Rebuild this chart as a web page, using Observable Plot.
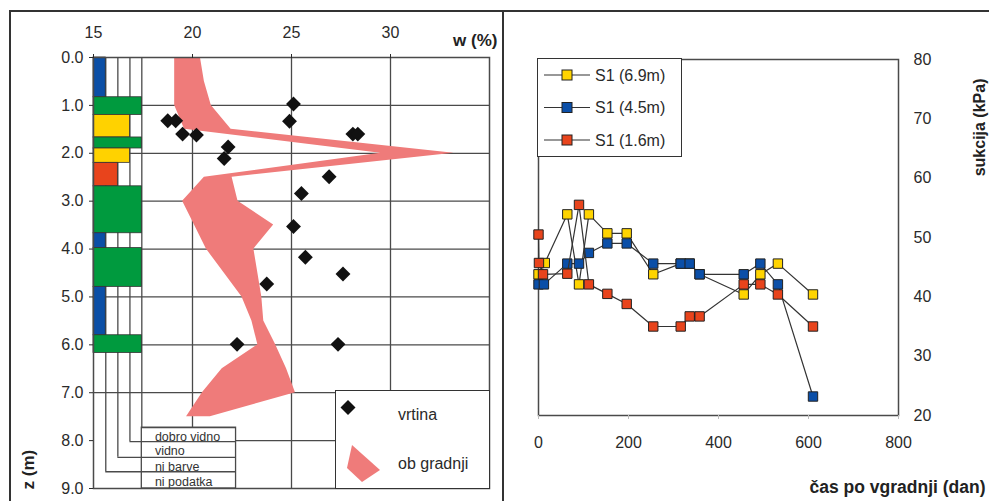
<!DOCTYPE html>
<html>
<head>
<meta charset="utf-8">
<script src="https://cdn.jsdelivr.net/npm/d3@7"></script>
<script src="https://cdn.jsdelivr.net/npm/@observablehq/plot@0.6"></script>
<style>
  body { margin: 0; background: #fff; }
  #page { position: relative; width: 989px; height: 501px; overflow: hidden; background: #fff; font-family: "Liberation Sans", Arial, sans-serif; }
  .abs { position: absolute; }
  .line { position: absolute; background: #333; }
  .legend { position: absolute; box-sizing: border-box; border: 1.5px solid #333; background: #fff; }
</style>
</head>
<body>
<div id="page">
  <div id="left" class="abs" style="left:0;top:0;width:500px;height:501px"></div>
  <div id="right" class="abs" style="left:500px;top:0;width:489px;height:501px"></div>
  <div class="line" style="left:9px;top:10px;width:980px;height:2px"></div>
  <div class="line" style="left:9px;top:10px;width:2px;height:491px"></div>
  <div class="line" style="left:502px;top:10px;width:2px;height:491px"></div>
  <div id="legL" class="legend" style="left:335px;top:390px;width:155px;height:99px"></div>
  <div id="legR" class="legend" style="left:537px;top:58px;width:145px;height:99px"></div>
</div>
<script>
// ---------- tick labels ----------
const depthTicks = [0, 1, 2, 3, 4, 5, 6, 7, 8, 9];
const wTicks = [15, 20, 25, 30];
const wGrid = [20, 25, 30];
const dayTicks = [0, 200, 400, 600, 800];
const kpaTicks = [20, 30, 40, 50, 60, 70, 80];

// ---------- left: vrtina (borehole) water content ----------
const vrtinaW = [25.1, 24.9, 18.75, 19.15, 19.5, 20.2, 21.8, 21.6, 28.1, 28.35, 26.9, 25.5, 25.1, 25.7, 27.6, 23.75, 22.25, 27.35];
const vrtinaZ = [0.97, 1.33, 1.32, 1.32, 1.6, 1.62, 1.87, 2.11, 1.6, 1.6, 2.49, 2.84, 3.53, 4.17, 4.52, 4.73, 5.99, 5.99];

// ---------- left: ob gradnji (during construction) range ----------
const bandZ   = [0,    0.5,  1.0,   1.5,   2.0,  2.5,  3.0,  3.5,  4.0,  4.5,  5.0,  5.5,  6.0,  6.5,   7.0,  7.5];
const bandMin = [19.1, 19.1, 19.1,  19.6,  29.5, 20.6, 19.5, 20.1, 20.7, 21.6, 22.5, 23.0, 23.3, 21.5,  20.5, 19.7];
const bandMax = [20.4, 20.6, 20.95, 21.95, 33.2, 22.0, 22.3, 24.1, 23.1, 23.3, 23.5, 23.6, 24.2, 24.75, 25.2, 20.9];

// ---------- left: visibility log ----------
const visClasses = ["ni podatka", "ni barve", "vidno", "dobro vidno"];
const visEdge = [15.62, 16.23, 16.84, 17.44];
const visTurn = [8.65, 8.35, 8.02, 7.73];
const visColor = ["#0b4fa6", "#e8441c", "#ffd200", "#009a3e"];
const labelBoxRight = 22.2;
const layerTop    = [0,    0.83, 1.2,  1.67, 1.9,  2.2,  2.69, 3.67, 3.98, 4.79, 5.8];
const layerBottom = [0.83, 1.2,  1.67, 1.9,  2.2,  2.69, 3.67, 3.98, 4.79, 5.8,  6.17];
const layerClass  = ["ni podatka", "dobro vidno", "vidno", "dobro vidno", "vidno", "ni barve",
                     "dobro vidno", "ni podatka", "dobro vidno", "ni podatka", "dobro vidno"];

// ---------- right: suction time series ----------
const seriesNames = ["S1 (6.9m)", "S1 (4.5m)", "S1 (1.6m)"];
const seriesColors = ["#ffd400", "#0b4fa8", "#e8441c"];
const dayS69 = [0, 14, 64, 90, 112, 153, 196, 255, 316, 336, 358, 456, 493, 532, 610];
const kpaS69 = [43.8, 45.7, 53.9, 42.1, 53.9, 50.7, 50.7, 43.8, 45.6, 45.6, 43.8, 40.4, 43.8, 45.6, 40.4];
const dayS45 = [0, 12, 64, 90, 112, 153, 196, 255, 316, 336, 358, 456, 493, 532, 610];
const kpaS45 = [42.1, 42.1, 45.6, 45.6, 47.4, 49.0, 49.0, 45.6, 45.6, 45.6, 43.8, 43.8, 45.6, 42.1, 23.2];
const dayS16 = [0, 1, 10, 64, 90, 112, 153, 196, 255, 316, 336, 358, 456, 493, 532, 610];
const kpaS16 = [50.5, 45.7, 43.8, 43.9, 55.5, 42.1, 40.5, 38.8, 35.0, 35.0, 36.7, 36.7, 42.1, 42.1, 40.4, 35.0];

const leftLegendNames = ["vrtina", "ob gradnji"];

// ---------- build tables ----------
const holes = vrtinaW.map((w, i) => ({w, z: vrtinaZ[i]}));
const band = bandZ.map((z, i) => ({z, min: bandMin[i], max: bandMax[i]}));
const vis = visClasses.map((cls, i) => ({
  cls, edge: visEdge[i], turn: visTurn[i],
  mid: (visTurn[i] + (i > 0 ? visTurn[i - 1] : 9)) / 2
}));
const edgeOf = Object.fromEntries(visClasses.map((c, i) => [c, visEdge[i]]));
const layers = layerTop.map((t, i) => ({top: t, bottom: layerBottom[i], cls: layerClass[i]}));
const series = [
  dayS69.map((d, i) => ({day: d, kpa: kpaS69[i]})),
  dayS45.map((d, i) => ({day: d, kpa: kpaS45[i]})),
  dayS16.map((d, i) => ({day: d, kpa: kpaS16[i]}))
];

const font = "'Liberation Sans', Arial, sans-serif";
const baseStyle = {fontFamily: font, fontSize: "16px", color: "#2a2a2a", background: "transparent", overflow: "visible", maxWidth: "none"};
const grid = "#4a4a4a";

// ---------- left chart ----------
const left = Plot.plot({
  width: 500, height: 501,
  marginLeft: 93, marginRight: 11, marginTop: 57, marginBottom: 13,
  x: {domain: [15, 35]},
  y: {domain: [0, 9], reverse: true},
  color: {domain: visClasses, range: visColor},
  style: baseStyle,
  marks: [
    Plot.ruleX(wGrid, {y1: 0, y2: 9, stroke: grid, strokeWidth: 1.3}),
    Plot.ruleY(depthTicks.filter(d => d > 0 && d < 8), {x1: 15, x2: 35, stroke: grid, strokeWidth: 1.3}),
    Plot.ruleY([8], {x1: labelBoxRight, x2: 35, stroke: grid, strokeWidth: 1.3}),
    Plot.rect([vis[3]], {x1: "edge", x2: labelBoxRight, y1: "turn", y2: 9, fill: "white", stroke: grid, strokeWidth: 1.3}),
    Plot.ruleX(vis, {x: "edge", y1: 0, y2: "turn", stroke: grid, strokeWidth: 1.3}),
    Plot.ruleY(vis, {y: "turn", x1: "edge", x2: labelBoxRight, stroke: grid, strokeWidth: 1.3}),
    Plot.areaX(band, {y: "z", x1: "min", x2: "max", fill: "#ef7b7a", curve: "linear"}),
    Plot.rect(layers, {x1: 15, x2: d => edgeOf[d.cls], y1: "top", y2: "bottom", fill: "cls", stroke: "#333", strokeWidth: 0.8}),
    Plot.text(vis, {x: 18.1, y: "mid", text: "cls", textAnchor: "start", fontSize: 12.5, dy: 2, fill: "#333"}),
    Plot.dot(holes, {x: "w", y: "z", symbol: "diamond2", r: 6.7, fill: "#111", stroke: "none"}),
    Plot.frame({stroke: grid, strokeWidth: 1.5}),
    Plot.axisY(depthTicks, {anchor: "left", tickFormat: d => d.toFixed(1), tickSize: 4, tickPadding: 6, label: null, fontSize: 16}),
    Plot.axisX(wTicks, {anchor: "top", tickSize: 4, tickPadding: 16, label: null, fontSize: 16}),
    Plot.text(["w (%)"], {frameAnchor: "top-right", text: d => d, dx: 8, dy: -24, textAnchor: "end", fontWeight: "bold", fontSize: 17, fill: "#222"}),
    Plot.text(["z (m)"], {frameAnchor: "bottom-left", text: d => d, dx: -60, dy: 1, rotate: -90, fontWeight: "bold", fontSize: 17, fill: "#222"})
  ]
});
document.getElementById("left").append(left);

// ---------- right chart ----------
const rightMarks = [Plot.frame({stroke: grid, strokeWidth: 1.5})];
series.forEach((s, i) => {
  rightMarks.push(Plot.line(s, {x: "day", y: "kpa", stroke: "#333", strokeWidth: 1.2}));
  rightMarks.push(Plot.dot(s, {x: "day", y: "kpa", symbol: "square", r: 5.3, fill: seriesColors[i], stroke: "#222", strokeWidth: 1}));
});
rightMarks.push(
  Plot.axisX(dayTicks, {anchor: "bottom", tickSize: 4, tickPadding: 17, label: null, fontSize: 16, stroke: "#bbb"}),
  Plot.axisY(kpaTicks, {anchor: "right", tickSize: 0, tickPadding: 15, label: null, fontSize: 16}),
  Plot.text(["sukcija (kPa)"], {frameAnchor: "top-right", text: d => d, dx: 75, dy: 19, rotate: -90, fontWeight: "bold", fontSize: 16, fill: "#222"}),
  Plot.text(["čas po vgradnji (dan)"], {frameAnchor: "bottom-right", text: d => d, dx: 87, dy: 77, textAnchor: "end", fontWeight: "bold", fontSize: 17.5, fill: "#222"})
);
const right = Plot.plot({
  width: 489, height: 501,
  marginLeft: 38, marginRight: 91, marginTop: 59, marginBottom: 86,
  x: {domain: [0, 800]},
  y: {domain: [20, 80]},
  style: baseStyle,
  marks: rightMarks
});
document.getElementById("right").append(right);

// ---------- legends ----------
const ns = "http://www.w3.org/2000/svg";
function el(tag, attrs, text) {
  const e = document.createElementNS(ns, tag);
  for (const k in attrs) e.setAttribute(k, attrs[k]);
  if (text) e.textContent = text;
  return e;
}
// right legend
const svgR = el("svg", {width: 142, height: 96, style: "position:absolute;left:0;top:0"});
seriesNames.forEach((name, i) => {
  const y = 16 + i * 32.5;
  svgR.append(el("line", {x1: 6, x2: 52, y1: y, y2: y, stroke: "#333", "stroke-width": 1.2}));
  svgR.append(el("rect", {x: 24, y: y - 5, width: 10, height: 10, fill: seriesColors[i], stroke: "#222", "stroke-width": 1}));
  svgR.append(el("text", {x: 57, y: y, "dominant-baseline": "central", "font-size": 16, "font-family": font, fill: "#2a2a2a"}, name));
});
document.getElementById("legR").append(svgR);
// left legend
const svgL = el("svg", {width: 152, height: 96, style: "position:absolute;left:0;top:0"});
svgL.append(el("polygon", {points: "12,9 19.5,16.5 12,24 4.5,16.5", fill: "#111"}));
svgL.append(el("text", {x: 62, y: 23, "dominant-baseline": "central", "font-size": 16, "font-family": font, fill: "#2a2a2a"}, leftLegendNames[0]));
svgL.append(el("polygon", {points: "16,54 44,79 26,91 11,77", fill: "#ef7b7a"}));
svgL.append(el("text", {x: 62, y: 72, "dominant-baseline": "central", "font-size": 16, "font-family": font, fill: "#2a2a2a"}, leftLegendNames[1]));
document.getElementById("legL").append(svgL);
</script>
</body>
</html>
